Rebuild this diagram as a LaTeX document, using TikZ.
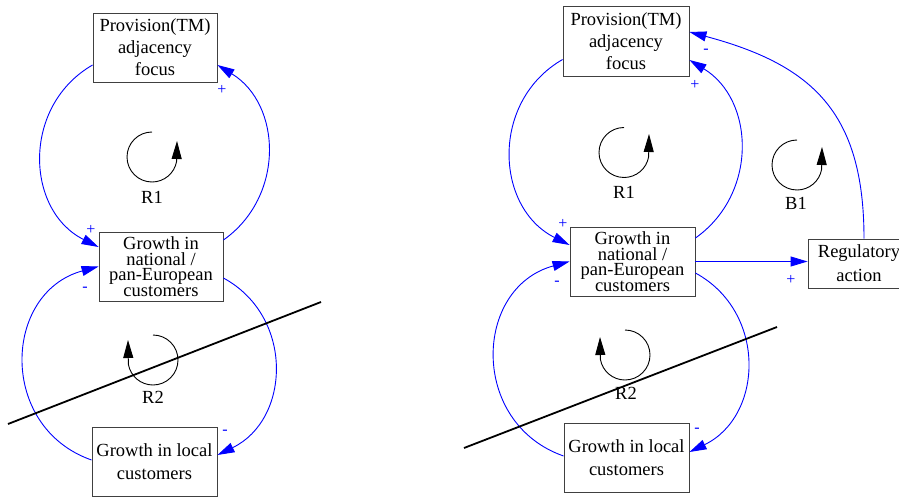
\documentclass[tikz,border=0pt]{standalone}
\usepackage{fontspec}
\setmainfont{Liberation Serif}
\usetikzlibrary{arrows.meta}
\tikzset{
  box/.style={draw=black!75, line width=0.9pt, minimum width=124pt, minimum height=69pt,
    inner sep=0pt, align=center, font=\fontsize{18.5}{22}\selectfont},
  tightbox/.style={box, font=\fontsize{18.5}{15.5}\selectfont},
  widebox/.style={box, minimum width=125pt, font=\fontsize{18.5}{23}\selectfont},
  link/.style={blue, line width=0.9pt, -{Triangle[length=17pt,width=10pt]}},
  pol/.style={text=blue, font=\fontsize{16}{16}\selectfont, inner sep=0pt},
  loopname/.style={font=\fontsize{18.5}{20}\selectfont, inner sep=0pt},
  looparrow/.style={black, line width=0.9pt, -{Triangle[length=18pt,width=10pt]}},
  cut/.style={black, line width=1.8pt}
}
\begin{document}
\begin{tikzpicture}[x=1pt,y=1pt]
\useasboundingbox (0,0) rectangle (899,-497);
\clip (0,0) rectangle (899,-497);
\fill[white] (0,0) rectangle (899,-497);

% ---------------- left diagram ----------------
\node[box] (A) at (155,-47.5) {Provision(TM)\\adjacency\\focus};
\node[tightbox] (B) at (161,-266.5) {Growth in\\national /\\pan-European\\customers};
\node[widebox] (C) at (154.5,-461.5) {Growth in local\\customers};

\draw[link] ([yshift=-17.5]A.west) to[out=210, in=153.4, looseness=1.15] ([yshift=19.5]B.west);
\draw[link] ([yshift=26.5]B.east) to[out=35.2, in=-31.4, looseness=1.1] ([yshift=-17.5]A.east);
\draw[link] ([yshift=-11.5]B.east) to[out=-28.6, in=25.8, looseness=1.17] ([yshift=6.5]C.east);
\draw[link] ([yshift=1.5]C.west) to[out=160.7, in=195.2, looseness=1.31] (B.west);

\node[pol] (lp1) at (91,-230) {+};
\node[pol] (lp2) at (222,-90) {+};
\node[pol] (lp3) at (85,-289) {-};
\node[pol] (lp4) at (225,-432) {-};

\draw[looparrow] (152,-132) arc[start angle=90, end angle=350, radius=25] -- (177,-141);
\node[loopname] (lR1) at (152,-197) {R1};
\draw[looparrow] (153,-335) arc[start angle=90, end angle=-170, radius=25] -- (128,-340);
\node[loopname] (lR2) at (153,-397) {R2};

\coordinate (lc1) at (8,-424);
\coordinate (lc2) at (321,-302);
\draw[cut] (lc1) -- (lc2);

% ---------------- right diagram ----------------
\node[box, minimum width=126pt, minimum height=70pt] (rA) at (626,-41) {Provision(TM)\\adjacency\\focus};
\node[tightbox, minimum width=125pt] (rB) at (632.5,-261.5) {Growth in\\national /\\pan-European\\customers};
\node[widebox] (rC) at (626.5,-457.5) {Growth in local\\customers};
\node[box, minimum width=102pt, minimum height=49pt, font=\fontsize{18.5}{24}\selectfont] (Reg) at (859,-263.5) {Regulatory\\action};

\draw[link] ([yshift=-18.5]rA.west) to[out=210, in=153.4, looseness=1.15] ([yshift=16.5]rB.west);
\draw[link] ([yshift=23.5]rB.east) to[out=35.2, in=-31.4, looseness=1.1] ([yshift=-19]rA.east);
\draw[link] ([yshift=-11.5]rB.east) to[out=-28.6, in=25.8, looseness=1.17] ([yshift=5.5]rC.east);
\draw[link] ([yshift=1.5]rC.west) to[out=160.7, in=195.2, looseness=1.31] (rB.west);
\draw[link] (rB.east) -- (rB.east -| Reg.west);
\draw[link] ([xshift=5]Reg.north) to[out=90, in=-15, looseness=1.2] ([yshift=9]rA.east);

\node[pol] (rp1) at (563,-224) {+};
\node[pol] (rp2) at (695,-85) {+};
\node[pol] (rp3) at (557,-283) {-};
\node[pol] (rp4) at (697,-430) {-};
\node[pol] (rp5) at (706,-51) {-};
\node[pol] (rp6) at (791,-280) {+};

\draw[looparrow] (624,-127.5) arc[start angle=90, end angle=350, radius=25] -- (649,-134);
\node[loopname] (rR1) at (624,-192) {R1};
\draw[looparrow] (797,-140) arc[start angle=90, end angle=350, radius=25] -- (822,-147);
\node[loopname] (rB1) at (796,-203) {B1};
\draw[looparrow] (625,-330) arc[start angle=90, end angle=-170, radius=25] -- (600,-337);
\node[loopname] (rR2) at (626,-393) {R2};

\coordinate (rc1) at (464,-448);
\coordinate (rc2) at (777,-327);
\draw[cut] (rc1) -- (rc2);
\end{tikzpicture}
\end{document}
